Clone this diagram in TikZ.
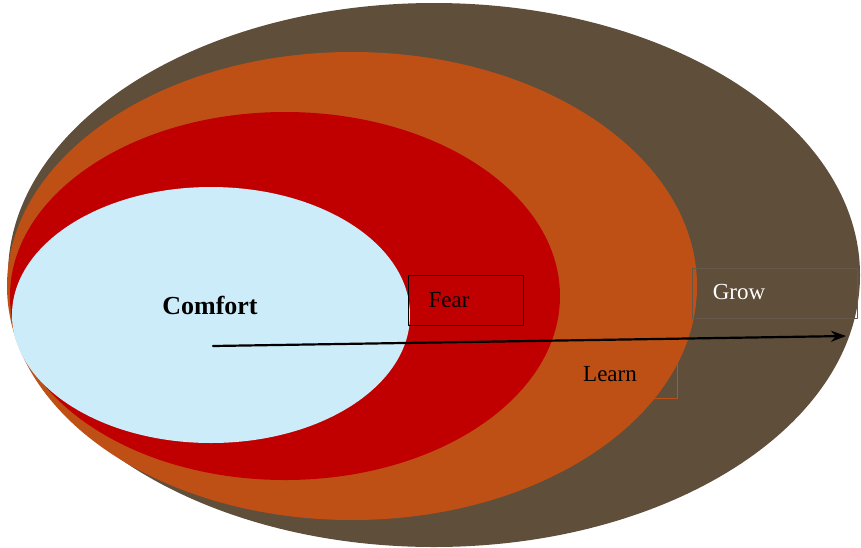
\documentclass[tikz,border=0pt]{standalone}
\usepackage{fontspec}
\setmainfont{Liberation Serif}
\usetikzlibrary{arrows.meta}
\definecolor{growbrown}{RGB}{94,78,58}
\definecolor{learnorange}{RGB}{191,80,21}
\definecolor{fearred}{RGB}{192,0,0}
\definecolor{comfortblue}{RGB}{204,236,250}
\tikzset{zonebox/.style={draw,minimum width=115pt,minimum height=50pt,font=\fontsize{23}{26}\selectfont}}
\begin{document}
\begin{tikzpicture}[>={Stealth[length=15pt,width=11pt]},line join=round,line cap=round,x=1pt,y=-1pt]
 \useasboundingbox (0,0) rectangle (861,547);
 % vung lon dan ra ngoai
 \fill[growbrown] (434,275) ellipse [x radius=426,y radius=272];
 \fill[learnorange] (352,286) ellipse [x radius=345,y radius=234];
 \fill[fearred] (285,296) ellipse [x radius=275,y radius=184];
 \fill[comfortblue] (211,315) ellipse [x radius=199,y radius=128];
 \node[zonebox,draw=learnorange,minimum width=117pt,anchor=south east] (learn) at (677,398) {};
 \node[font=\fontsize{23}{26}\selectfont] (learnlbl) at (610,374) {Learn};
 \node[zonebox,anchor=north west] (fear) at (408,275) {};
 \node[font=\fontsize{23}{26}\selectfont] (fearlbl) at (449,300) {Fear};
 \node[zonebox,draw=growbrown!80!gray,minimum width=165pt,anchor=north west] (grow) at (692,268) {};
 \node[font=\fontsize{23}{26}\selectfont,text=white] (growlbl) at (739,292) {Grow};
 \node[font=\bfseries\fontsize{26}{30}\selectfont] (comfort) at (210,305) {Comfort};
 \coordinate (start) at (213,346);
 \coordinate (goal) at (846,336);
 \draw[->,line width=2.2pt] (start) -- (goal);
\end{tikzpicture}
\end{document}
